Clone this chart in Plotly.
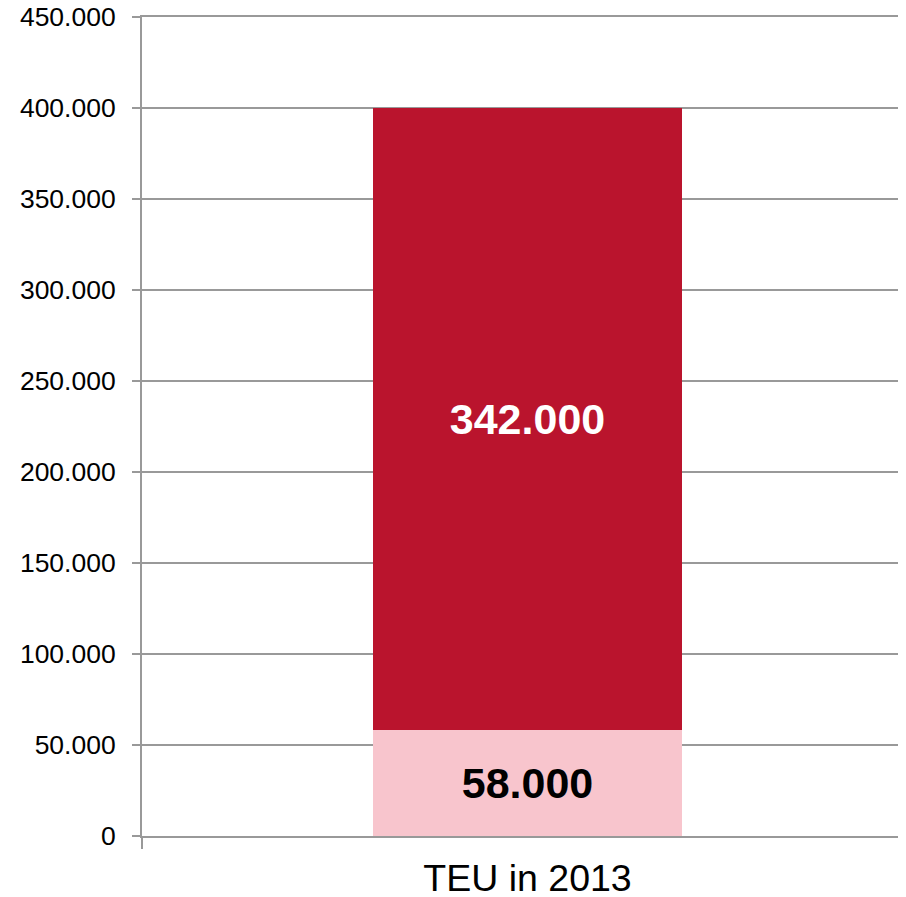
import plotly.graph_objects as go

categories = ["TEU in 2013"]
series_bottom = [58000]
series_top = [342000]
labels_bottom = ["58.000"]
labels_top = ["342.000"]

fig = go.Figure()
fig.add_trace(go.Bar(
    x=categories, y=series_bottom, width=0.4008,
    marker=dict(color="#F8C5CD", line=dict(width=0)),
    text=labels_bottom, textposition="inside", insidetextanchor="middle",
    textfont=dict(family="Liberation Sans", size=43, color="black", weight="bold"),
    textangle=0, hoverinfo="skip",
))
fig.add_trace(go.Bar(
    x=categories, y=series_top, width=0.4008,
    marker=dict(color="#BA142D", line=dict(width=0)),
    text=labels_top, textposition="inside", insidetextanchor="middle",
    textfont=dict(family="Liberation Sans", size=43, color="white", weight="bold"),
    textangle=0, hoverinfo="skip",
))

fig.update_layout(
    barmode="stack",
    width=906, height=897,
    margin=dict(l=134, r=0, t=9, b=69, pad=0, autoexpand=False),
    paper_bgcolor="white", plot_bgcolor="white",
    showlegend=False,
    separators=",.",
    font=dict(family="Liberation Sans", color="black"),
    uniformtext=dict(mode=False),
)
fig.update_xaxes(
    range=[-0.5, 0.5013], automargin=False,
    showline=True, linecolor="#999999", linewidth=2, mirror=True,
    ticks="outside", tickson="boundaries", ticklen=11, tickcolor="#999999", tickwidth=2,
    tickfont=dict(size=37.5, family="Liberation Sans", color="black"),
    ticklabelstandoff=8, ticklabeloverflow="allow",
    showgrid=False, zeroline=False,
)
fig.update_yaxes(
    range=[0, 450000], dtick=50000, tickformat=",d", automargin=False,
    showline=True, linecolor="#999999", linewidth=2,
    ticks="outside", ticklen=8, tickcolor="#999999", tickwidth=2,
    gridcolor="#999999", gridwidth=2,
    tickfont=dict(size=26.5, family="Liberation Sans", color="black"),
    ticklabelstandoff=11, ticklabeloverflow="allow",
    zeroline=False,
)

fig.write_html("out.html")
